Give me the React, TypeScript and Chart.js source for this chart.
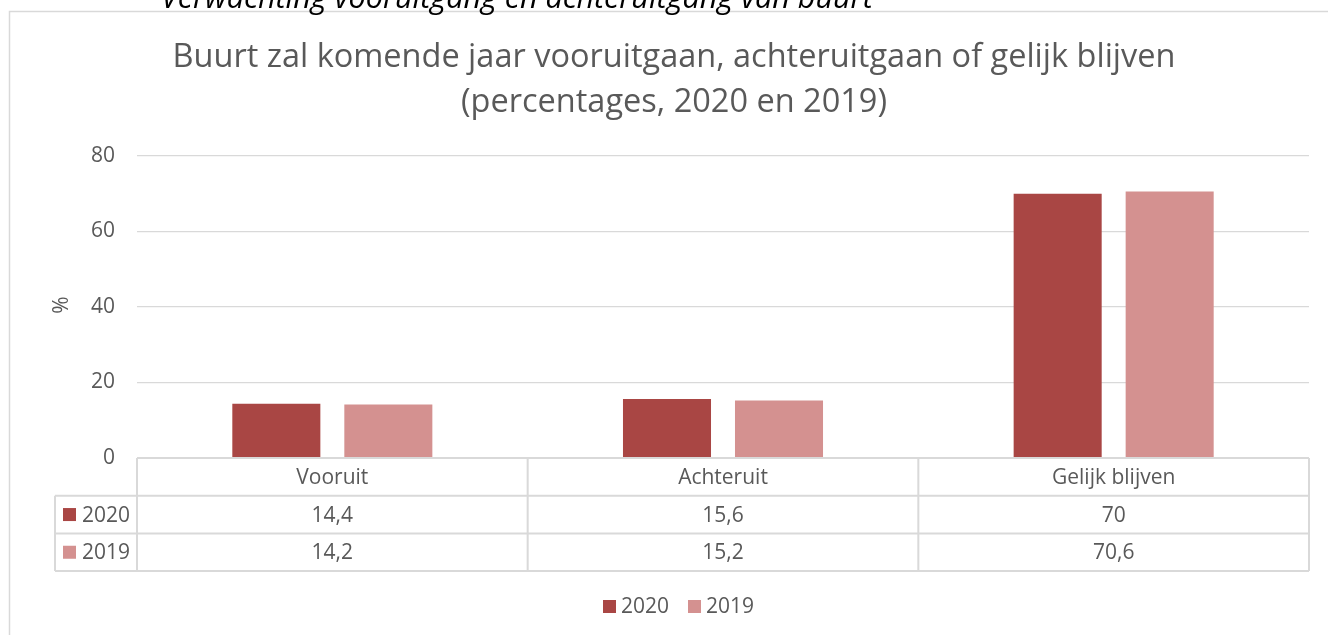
import React, { useEffect, useRef } from "react";
import { Chart, registerables } from "chart.js";

Chart.register(...registerables);

const categories = ["Vooruit", "Achteruit", "Gelijk blijven"];
const seriesNames = ["2020", "2019"];
const values2020 = [14.4, 15.6, 70];
const values2019 = [14.2, 15.2, 70.6];
const seriesColors = ["#a94644", "#d49190"];
const yTicks = [0, 20, 40, 60, 80];
const titleLines = [
  "Buurt zal komende jaar vooruitgaan, achteruitgaan of gelijk blijven",
  "(percentages, 2020 en 2019)",
];
const topCaption = "Verwachting vooruitgang en achteruitgang van buurt";
const yAxisTitle = "%";

const FONT = "'Open Sans', 'Noto Sans', sans-serif";
const TEXT = "#595959";
const LINE = "#d9d9d9";

const fmt = (v: number) => String(v).replace(".", ",");

const tablePlugin = {
  id: "excelTable",
  beforeDraw(chart: any) {
    const { ctx, width, height } = chart;
    ctx.save();
    ctx.fillStyle = "#ffffff";
    ctx.fillRect(0, 0, width, height);
    ctx.restore();
  },
  afterDraw(chart: any) {
    const { ctx } = chart;
    const area = chart.chartArea;
    const xs = chart.scales.x;
    ctx.save();

    // frame
    ctx.strokeStyle = LINE;
    ctx.lineWidth = 1.5;
    ctx.strokeRect(9.5, 11.5, 1400, 700);

    // caption (clipped above)
    ctx.fillStyle = "#000000";
    ctx.font = `italic 30.5px ${FONT}`;
    ctx.textAlign = "left";
    ctx.textBaseline = "alphabetic";
    ctx.fillText(topCaption, 161, 8);

    // title
    ctx.fillStyle = TEXT;
    ctx.font = `32.5px ${FONT}`;
    ctx.textAlign = "center";
    ctx.fillText(titleLines[0], 674, 67);
    ctx.fillText(titleLines[1], 674, 112);

    // y axis title
    ctx.save();
    ctx.translate(62, 305);
    ctx.rotate(-Math.PI / 2);
    ctx.font = `21px ${FONT}`;
    ctx.textAlign = "center";
    ctx.textBaseline = "middle";
    ctx.fillText(yAxisTitle, 0, 0);
    ctx.restore();

    // data table
    const left = area.left;
    const right = area.right;
    const top = area.bottom;
    const rowH = 37.7;
    const labelLeft = 55;
    const n = categories.length;
    const colW = (right - left) / n;
    ctx.strokeStyle = LINE;
    ctx.lineWidth = 2;
    ctx.beginPath();
    ctx.moveTo(left, top);
    ctx.lineTo(right, top);
    for (let r = 1; r <= 3; r++) {
      const y = top + r * rowH;
      ctx.moveTo(labelLeft, y);
      ctx.lineTo(right, y);
    }
    for (let c = 0; c <= n; c++) {
      const x = left + c * colW;
      ctx.moveTo(x, top);
      ctx.lineTo(x, top + 3 * rowH);
    }
    ctx.moveTo(labelLeft, top + rowH);
    ctx.lineTo(labelLeft, top + 3 * rowH);
    ctx.stroke();

    ctx.fillStyle = TEXT;
    ctx.font = `21px ${FONT}`;
    ctx.textAlign = "center";
    ctx.textBaseline = "middle";
    categories.forEach((c, i) => {
      ctx.fillText(c, xs.getPixelForValue(i), top + rowH / 2 + 1);
    });
    const rows = [values2020, values2019];
    rows.forEach((vals, r) => {
      const yc = top + rowH * (r + 1) + rowH / 2 + 1;
      vals.forEach((v, i) => {
        ctx.fillStyle = TEXT;
        ctx.textAlign = "center";
        ctx.fillText(fmt(v), xs.getPixelForValue(i), yc);
      });
      ctx.fillStyle = seriesColors[r];
      ctx.fillRect(63, yc - 7.5, 13, 13);
      ctx.fillStyle = TEXT;
      ctx.textAlign = "left";
      ctx.fillText(seriesNames[r], 82, yc);
    });

    // legend
    const ly = 607;
    const items = [
      { x: 603, label: seriesNames[0], color: seriesColors[0] },
      { x: 688, label: seriesNames[1], color: seriesColors[1] },
    ];
    items.forEach((it) => {
      ctx.fillStyle = it.color;
      ctx.fillRect(it.x, ly - 7, 13, 13);
      ctx.fillStyle = TEXT;
      ctx.textAlign = "left";
      ctx.fillText(it.label, it.x + 18, ly);
    });

    ctx.restore();
  },
};

export default function App() {
  const canvasRef = useRef<HTMLCanvasElement | null>(null);

  useEffect(() => {
    const canvas = canvasRef.current;
    if (!canvas) return;
    const chart = new Chart(canvas, {
      type: "bar",
      data: {
        labels: categories,
        datasets: [
          {
            label: seriesNames[0],
            data: values2020,
            backgroundColor: seriesColors[0],
            categoryPercentage: 0.5734,
            barPercentage: 0.786,
          },
          {
            label: seriesNames[1],
            data: values2019,
            backgroundColor: seriesColors[1],
            categoryPercentage: 0.5734,
            barPercentage: 0.786,
          },
        ],
      },
      options: {
        responsive: false,
        animation: false,
        layout: { padding: { left: 0, right: 19, top: 156, bottom: 177 } },
        plugins: {
          legend: { display: false },
          tooltip: { enabled: false },
          title: { display: false },
        },
        scales: {
          x: { display: false, type: "category" },
          y: {
            min: 0,
            max: 80,
            afterFit: (scale: any) => {
              scale.width = 137;
            },
            afterBuildTicks: (scale: any) => {
              scale.ticks = yTicks.map((v) => ({ value: v }));
            },
            ticks: {
              padding: 22,
              color: TEXT,
              font: { family: FONT, size: 21 },
            },
            grid: { color: LINE, lineWidth: 1.2, drawTicks: false },
            border: { display: false },
          },
        },
      },
      plugins: [tablePlugin],
    });
    return () => chart.destroy();
  }, []);

  return (
    <div style={{ position: "absolute", left: 0, top: 0, width: 1328, height: 635 }}>
      <canvas ref={canvasRef} width={1328} height={635} style={{ display: "block" }} />
    </div>
  );
}
